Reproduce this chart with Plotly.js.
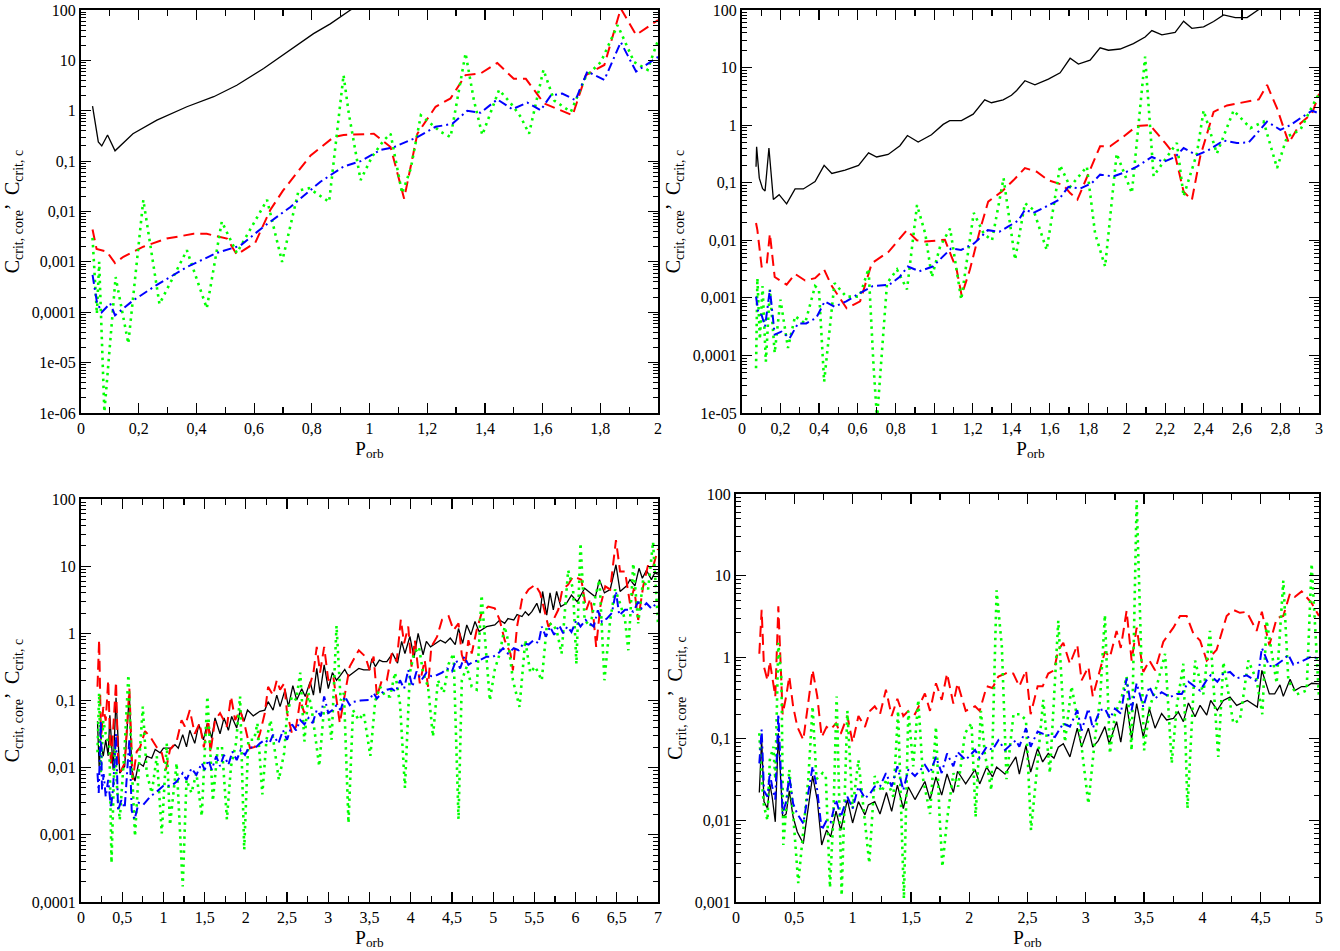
<!DOCTYPE html>
<html>
<head>
<meta charset="utf-8">
<script src="https://cdn.plot.ly/plotly-3.0.1.min.js"></script>
<style>html,body{margin:0;padding:0;background:#fff;}#chart{width:1340px;height:951px;}</style>
</head>
<body>
<div id="chart"></div>
<script>
// ---------- tick labels ----------
const yTickExp = [2, 1, 0, -1, -2, -3, -4, -5, -6];
const yTickText = ['100', '10', '1', '0,1', '0,01', '0,001', '0,0001', '1e-05', '1e-06'];

// ---------- panel 1 (top-left) : [P_orb, C] ----------
const p1Black = [[0.04,1.24],[0.06,0.24],[0.072,0.2],[0.092,0.33],[0.118,0.16],[0.18,0.35],[0.263,0.65],[0.367,1.2],[0.46,1.9],[0.54,3.2],[0.633,6.9],[0.726,16],[0.806,34],[0.864,53],[0.934,100],[1.0,160]];
const p1Red = [[0.04,0.0044],[0.054,0.0018],[0.089,0.0016],[0.118,0.00095],[0.147,0.00126],[0.216,0.002],[0.297,0.0029],[0.39,0.0036],[0.436,0.0036],[0.506,0.0029],[0.54,0.0014],[0.604,0.0024],[0.656,0.0107],[0.70,0.026],[0.796,0.13],[0.876,0.3],[0.91,0.33],[1.015,0.35],[1.073,0.19],[1.12,0.018],[1.166,0.35],[1.229,1.2],[1.281,1.76],[1.333,5.1],[1.385,5.5],[1.443,8.9],[1.5,4.3],[1.542,4.3],[1.605,1.4],[1.663,1.02],[1.704,0.81],[1.75,5.1],[1.814,8.1],[1.871,107],[1.924,32],[2.0,63]];
const p1Green = [[0.04,0.003],[0.055,9.3e-5],[0.063,1.0e-3],[0.081,1.05e-6],[0.12,5e-4],[0.164,2.4e-5],[0.216,0.017],[0.272,1.45e-4],[0.367,0.0017],[0.436,1.2e-4],[0.488,0.0063],[0.54,0.0015],[0.645,0.017],[0.697,0.001],[0.754,0.026],[0.79,0.029],[0.86,0.0155],[0.91,5.1],[0.928,0.9],[0.969,0.042],[1.009,0.123],[1.05,0.26],[1.073,0.35],[1.113,0.023],[1.143,0.071],[1.178,0.81],[1.247,0.38],[1.281,0.3],[1.333,13.8],[1.362,1.6],[1.391,0.33],[1.449,2.6],[1.49,1.4],[1.524,0.76],[1.553,0.35],[1.603,6.5],[1.64,1.6],[1.698,0.95],[1.75,4.8],[1.802,9.3],[1.86,50],[1.917,9.3],[1.964,6.5],[2.0,25]];
const p1Blue = [[0.04,5.5e-4],[0.055,1.6e-4],[0.072,1.0e-4],[0.101,1.5e-4],[0.118,8.7e-5],[0.18,1.7e-4],[0.263,3.5e-4],[0.367,7.9e-4],[0.47,0.0015],[0.552,0.0021],[0.633,0.005],[0.726,0.0123],[0.83,0.039],[0.91,0.078],[0.969,0.1],[1.038,0.166],[1.085,0.19],[1.166,0.3],[1.229,0.48],[1.287,0.55],[1.339,1.0],[1.385,0.91],[1.443,1.68],[1.495,1.07],[1.547,1.45],[1.593,1.02],[1.628,2.0],[1.668,2.2],[1.714,1.62],[1.755,6.0],[1.814,4.1],[1.871,23],[1.924,6.0],[2.0,11.7]];

// ---------- panel 2 (top-right) ----------
const p2Black = [[0.073,0.19],[0.076,0.42],[0.09,0.12],[0.107,0.079],[0.12,0.072],[0.14,0.4],[0.163,0.051],[0.193,0.062],[0.232,0.043],[0.276,0.078],[0.319,0.078],[0.38,0.105],[0.427,0.2],[0.467,0.145],[0.536,0.166],[0.606,0.2],[0.658,0.33],[0.7,0.28],[0.76,0.31],[0.821,0.44],[0.86,0.66],[0.916,0.51],[0.985,0.68],[1.046,1.03],[1.08,1.2],[1.141,1.2],[1.202,1.55],[1.262,2.75],[1.297,2.45],[1.358,2.75],[1.401,3.3],[1.428,4.0],[1.471,5.9],[1.523,5.0],[1.593,6.3],[1.654,8.1],[1.706,14.5],[1.749,11.5],[1.81,13.5],[1.862,22],[1.905,20],[1.966,21],[2.035,26],[2.096,34],[2.131,44],[2.183,37],[2.252,41],[2.296,64],[2.339,48],[2.4,51],[2.452,63],[2.504,82],[2.565,74],[2.626,74],[2.687,102],[2.75,130],[3.0,250]];
const p2Red = [[0.073,0.02],[0.08,0.015],[0.102,0.0035],[0.128,0.0037],[0.145,0.013],[0.17,0.0023],[0.232,0.0017],[0.276,0.0026],[0.328,0.002],[0.38,0.0022],[0.427,0.0031],[0.467,0.0016],[0.544,6.6e-4],[0.614,8.7e-4],[0.675,0.004],[0.762,0.0063],[0.857,0.015],[0.909,0.01],[0.952,0.0095],[1.055,0.0102],[1.116,0.0031],[1.142,0.0011],[1.185,0.0031],[1.237,0.015],[1.28,0.047],[1.35,0.07],[1.411,0.11],[1.471,0.18],[1.532,0.155],[1.593,0.11],[1.671,0.091],[1.706,0.066],[1.744,0.051],[1.784,0.105],[1.862,0.43],[1.914,0.43],[1.983,0.63],[2.053,0.97],[2.122,1.0],[2.2,0.49],[2.252,0.3],[2.296,0.07],[2.339,0.05],[2.383,0.29],[2.452,1.7],[2.522,2.2],[2.626,2.6],[2.687,2.8],[2.73,5.0],[2.782,1.95],[2.843,0.49],[2.903,1.07],[2.964,1.6],[3.0,3.5]];
const p2Green = [[0.073,6e-5],[0.08,0.0022],[0.093,1.9e-4],[0.107,0.0016],[0.124,7.8e-5],[0.145,0.0014],[0.17,1.1e-4],[0.2,9.3e-4],[0.239,1.35e-4],[0.276,4.8e-4],[0.328,3.6e-4],[0.38,0.0016],[0.4,0.0014],[0.427,3.5e-5],[0.481,0.0018],[0.542,0.00105],[0.611,0.00105],[0.658,0.0032],[0.684,6.5e-5],[0.702,8e-6],[0.754,0.0018],[0.806,0.0031],[0.858,0.0014],[0.91,0.041],[0.953,0.013],[0.987,0.0023],[1.03,0.0078],[1.082,0.016],[1.14,9.3e-4],[1.205,0.03],[1.257,0.013],[1.3,0.01],[1.36,0.12],[1.42,0.0046],[1.471,0.044],[1.515,0.034],[1.584,0.0068],[1.654,0.2],[1.706,0.085],[1.793,0.19],[1.836,0.013],[1.888,0.0035],[1.948,0.32],[2.027,0.066],[2.096,15.5],[2.14,0.13],[2.209,0.28],[2.261,0.49],[2.296,0.058],[2.365,0.32],[2.4,1.8],[2.469,0.32],[2.556,1.8],[2.643,0.89],[2.712,1.15],[2.782,0.18],[2.834,0.63],[2.903,0.83],[2.964,2.1],[3.0,3.5]];
const p2Blue = [[0.073,0.00105],[0.085,5.4e-4],[0.102,5e-4],[0.12,3.2e-4],[0.145,0.0014],[0.17,2.3e-4],[0.205,2.6e-4],[0.248,2e-4],[0.291,3.6e-4],[0.334,3.6e-4],[0.386,4.5e-4],[0.43,8.7e-4],[0.481,7e-4],[0.542,8.7e-4],[0.611,0.0012],[0.68,0.0016],[0.767,0.0017],[0.819,0.0023],[0.862,0.0035],[0.922,0.0029],[0.992,0.0035],[1.087,0.0072],[1.139,0.0068],[1.208,0.0089],[1.278,0.015],[1.338,0.0141],[1.385,0.0174],[1.437,0.022],[1.471,0.034],[1.515,0.03],[1.584,0.039],[1.645,0.05],[1.697,0.085],[1.758,0.079],[1.818,0.098],[1.862,0.138],[1.931,0.129],[2.0,0.155],[2.053,0.19],[2.131,0.28],[2.192,0.23],[2.252,0.28],[2.296,0.4],[2.365,0.3],[2.426,0.37],[2.504,0.54],[2.573,0.49],[2.634,0.5],[2.677,0.72],[2.73,1.15],[2.799,0.83],[2.851,1.0],[2.903,1.32],[2.964,1.78],[3.0,1.6]];

// ---------- panel 3 (bottom-left) ----------
const p3Black = [[0.2,0.049],[0.22,0.0105],[0.243,0.023],[0.27,0.0148],[0.3,0.026],[0.33,0.015],[0.35,0.06],[0.39,0.0093],[0.425,0.11],[0.47,0.0083],[0.53,0.0105],[0.587,0.13],[0.615,0.0093],[0.655,0.0063],[0.7,0.0118],[0.756,0.0105],[0.797,0.0148],[0.858,0.0138],[0.9,0.0186],[0.96,0.0166],[1.0,0.0195],[1.1,0.0195],[1.14,0.022],[1.18,0.0195],[1.234,0.031],[1.28,0.0204],[1.32,0.036],[1.38,0.023],[1.43,0.044],[1.485,0.026],[1.533,0.046],[1.586,0.0275],[1.626,0.055],[1.687,0.032],[1.735,0.055],[1.788,0.036],[1.828,0.058],[1.889,0.039],[1.93,0.072],[1.978,0.049],[2.02,0.072],[2.09,0.059],[2.17,0.069],[2.23,0.072],[2.27,0.096],[2.33,0.072],[2.375,0.12],[2.415,0.081],[2.476,0.145],[2.516,0.081],[2.57,0.166],[2.617,0.102],[2.678,0.15],[2.72,0.115],[2.78,0.19],[2.82,0.12],[2.86,0.30],[2.9,0.129],[2.95,0.34],[3.0,0.15],[3.05,0.26],[3.1,0.2],[3.14,0.23],[3.2,0.29],[3.245,0.23],[3.3,0.26],[3.37,0.3],[3.43,0.285],[3.5,0.285],[3.53,0.42],[3.57,0.32],[3.62,0.4],[3.66,0.38],[3.71,0.38],[3.78,0.5],[3.84,0.36],[3.89,0.76],[3.93,0.5],[3.99,0.9],[4.04,0.43],[4.09,1.0],[4.15,0.48],[4.19,0.76],[4.24,0.63],[4.3,0.71],[4.36,0.79],[4.42,0.72],[4.48,0.85],[4.54,0.68],[4.58,1.18],[4.63,0.71],[4.68,1.33],[4.73,0.95],[4.78,1.5],[4.83,1.06],[4.92,1.26],[5.02,1.33],[5.08,1.58],[5.14,1.41],[5.18,1.66],[5.25,1.58],[5.29,1.9],[5.35,1.78],[5.39,2.1],[5.43,1.86],[5.47,2.1],[5.53,2.8],[5.57,2.0],[5.6,4.2],[5.65,1.86],[5.69,4.0],[5.73,2.24],[5.77,4.2],[5.82,2.5],[5.89,2.8],[5.95,3.7],[6.02,2.95],[6.06,3.7],[6.11,4.7],[6.18,4.0],[6.24,3.5],[6.29,6.3],[6.35,4.0],[6.42,4.5],[6.49,10.5],[6.54,4.2],[6.62,5.1],[6.66,6.3],[6.72,5.1],[6.77,9.3],[6.81,6.6],[6.86,8.7],[6.92,6.3],[6.96,7.9],[7.0,7.6]];
const p3Red = [[0.2,0.16],[0.22,0.8],[0.243,0.026],[0.27,0.08],[0.3,0.05],[0.33,0.2],[0.364,0.0105],[0.425,0.19],[0.45,0.013],[0.48,0.0087],[0.53,0.0117],[0.587,0.15],[0.627,0.0066],[0.676,0.0174],[0.716,0.02],[0.777,0.035],[0.838,0.029],[0.92,0.02],[0.98,0.0166],[1.03,0.0093],[1.08,0.0186],[1.16,0.0245],[1.22,0.051],[1.26,0.041],[1.32,0.072],[1.38,0.032],[1.44,0.046],[1.49,0.02],[1.545,0.051],[1.57,0.0166],[1.626,0.051],[1.687,0.065],[1.77,0.041],[1.82,0.115],[1.87,0.051],[1.93,0.072],[1.99,0.041],[2.05,0.0195],[2.11,0.0204],[2.17,0.032],[2.23,0.065],[2.27,0.16],[2.33,0.12],[2.375,0.2],[2.415,0.145],[2.465,0.18],[2.5,0.065],[2.56,0.032],[2.61,0.041],[2.66,0.1],[2.71,0.065],[2.76,0.145],[2.82,0.26],[2.86,0.63],[2.9,0.26],[2.95,0.63],[3.0,0.2],[3.06,0.23],[3.14,0.046],[3.2,0.129],[3.26,0.32],[3.37,0.56],[3.45,0.45],[3.5,0.285],[3.55,0.45],[3.59,0.115],[3.65,0.2],[3.71,0.2],[3.77,0.5],[3.83,0.38],[3.88,1.6],[3.92,0.71],[3.97,1.26],[4.01,0.32],[4.05,0.79],[4.11,0.18],[4.17,0.4],[4.21,0.16],[4.25,0.63],[4.32,0.89],[4.38,1.6],[4.46,1.8],[4.52,1.12],[4.58,1.41],[4.62,0.48],[4.66,0.34],[4.7,0.79],[4.74,0.5],[4.8,1.12],[4.86,2.0],[4.94,2.5],[5.02,2.35],[5.08,1.58],[5.14,0.79],[5.21,0.5],[5.24,0.28],[5.29,1.26],[5.35,3.2],[5.43,4.5],[5.51,5.3],[5.57,4.0],[5.63,2.0],[5.67,1.26],[5.73,1.58],[5.79,2.24],[5.84,4.5],[5.91,5.3],[5.97,7.0],[6.03,6.6],[6.07,6.3],[6.13,2.24],[6.18,3.3],[6.22,1.58],[6.25,0.63],[6.3,2.5],[6.36,5.0],[6.42,4.5],[6.49,24.5],[6.54,8.3],[6.6,8.3],[6.66,2.8],[6.71,4.7],[6.76,1.58],[6.82,5.0],[6.88,10.5],[6.94,9.8],[7.0,18]];
const p3Green = [[0.2,0.017],[0.22,0.129],[0.24,0.0083],[0.27,0.05],[0.3,0.032],[0.345,0.0204],[0.37,3.8e-4],[0.41,0.0204],[0.44,0.0045],[0.47,0.00166],[0.53,0.0204],[0.575,0.24],[0.615,0.0117],[0.655,9.5e-4],[0.71,0.0148],[0.75,0.081],[0.797,0.0083],[0.858,0.0042],[0.92,0.0148],[0.98,0.00105],[1.04,0.023],[1.08,0.0014],[1.16,0.0117],[1.234,1.7e-4],[1.28,0.0066],[1.34,0.0042],[1.4,0.0083],[1.465,0.0019],[1.533,0.115],[1.6,0.0032],[1.66,0.0204],[1.71,0.0204],[1.77,0.0017],[1.82,0.0105],[1.88,0.023],[1.93,0.115],[1.98,6e-4],[2.03,0.026],[2.1,0.026],[2.14,0.046],[2.2,0.004],[2.25,0.026],[2.3,0.051],[2.34,0.023],[2.4,0.0066],[2.465,0.0166],[2.5,0.065],[2.56,0.115],[2.61,0.102],[2.66,0.26],[2.71,0.0245],[2.76,0.129],[2.8,0.072],[2.89,0.0105],[2.95,0.081],[3.0,0.065],[3.04,0.026],[3.1,1.3],[3.15,0.1],[3.19,0.129],[3.245,0.0015],[3.3,0.072],[3.37,0.051],[3.43,0.065],[3.51,0.015],[3.57,0.1],[3.63,0.16],[3.69,0.115],[3.75,0.115],[3.81,0.26],[3.87,0.09],[3.93,0.005],[3.99,0.26],[4.04,0.5],[4.1,0.63],[4.15,0.26],[4.21,0.16],[4.27,0.029],[4.33,0.2],[4.4,0.13],[4.46,0.35],[4.52,0.5],[4.58,0.0017],[4.62,0.2],[4.68,0.32],[4.74,0.16],[4.8,0.145],[4.86,3.7],[4.92,0.5],[4.96,0.1],[5.02,0.29],[5.08,0.5],[5.14,1.26],[5.18,0.79],[5.24,0.2],[5.32,0.08],[5.39,0.79],[5.45,0.26],[5.51,0.32],[5.59,0.2],[5.65,1.26],[5.71,1.41],[5.77,1.12],[5.83,0.5],[5.91,8.7],[5.97,4.5],[6.01,0.35],[6.06,22],[6.11,1.58],[6.18,1.26],[6.24,3.5],[6.29,6.3],[6.35,0.2],[6.42,1.58],[6.48,4.5],[6.54,2.8],[6.6,1.58],[6.64,0.56],[6.7,11],[6.76,1.41],[6.82,6.3],[6.88,4.5],[6.94,23],[7.0,1.41]];
const p3Blue = [[0.2,0.0083],[0.215,0.0042],[0.24,0.05],[0.255,0.0047],[0.275,0.008],[0.3,0.0037],[0.33,0.0066],[0.364,0.0025],[0.39,0.0052],[0.425,0.032],[0.45,0.0023],[0.49,0.0033],[0.53,0.0025],[0.587,0.027],[0.615,0.0023],[0.65,0.0017],[0.7,0.003],[0.756,0.0028],[0.838,0.0037],[0.92,0.0044],[1.0,0.0054],[1.1,0.0054],[1.16,0.0062],[1.234,0.0083],[1.28,0.0066],[1.34,0.0098],[1.4,0.0078],[1.465,0.0117],[1.5,0.0093],[1.545,0.013],[1.586,0.0093],[1.64,0.0148],[1.687,0.0105],[1.735,0.0155],[1.788,0.011],[1.836,0.0174],[1.889,0.013],[1.938,0.0185],[1.99,0.0155],[2.04,0.0204],[2.11,0.0195],[2.17,0.023],[2.23,0.026],[2.285,0.023],[2.33,0.031],[2.395,0.023],[2.45,0.036],[2.5,0.026],[2.56,0.044],[2.61,0.036],[2.66,0.051],[2.71,0.044],[2.76,0.055],[2.81,0.046],[2.86,0.072],[2.91,0.058],[2.95,0.115],[3.0,0.065],[3.05,0.072],[3.1,0.085],[3.15,0.072],[3.2,0.115],[3.26,0.085],[3.3,0.095],[3.39,0.1],[3.45,0.1],[3.5,0.102],[3.55,0.13],[3.59,0.107],[3.65,0.13],[3.71,0.145],[3.77,0.15],[3.82,0.135],[3.87,0.2],[3.92,0.15],[3.97,0.285],[4.02,0.16],[4.07,0.27],[4.13,0.2],[4.19,0.26],[4.25,0.23],[4.32,0.24],[4.38,0.26],[4.44,0.3],[4.5,0.27],[4.55,0.4],[4.6,0.3],[4.65,0.45],[4.7,0.34],[4.76,0.38],[4.84,0.4],[4.92,0.45],[5.0,0.45],[5.06,0.5],[5.12,0.6],[5.18,0.5],[5.25,0.6],[5.31,0.56],[5.37,0.71],[5.43,0.68],[5.49,0.79],[5.55,0.71],[5.59,1.26],[5.64,0.89],[5.69,1.26],[5.74,0.95],[5.8,1.32],[5.85,1.0],[5.9,1.26],[5.95,1.05],[6.01,1.58],[6.06,1.26],[6.12,1.58],[6.17,1.41],[6.22,1.26],[6.27,2.2],[6.32,1.48],[6.38,1.66],[6.44,2.0],[6.49,4.2],[6.53,1.86],[6.6,2.24],[6.65,2.24],[6.7,2.1],[6.76,2.95],[6.8,2.34],[6.86,2.8],[6.92,2.34],[7.0,2.95]];

// ---------- panel 4 (bottom-right) ----------
const p4Black = [[0.2,0.022],[0.22,0.1],[0.24,0.017],[0.27,0.014],[0.29,0.028],[0.31,0.0195],[0.337,0.0096],[0.363,0.117],[0.4,0.011],[0.43,0.012],[0.457,0.023],[0.49,0.011],[0.526,0.0072],[0.577,0.0052],[0.657,0.035],[0.697,0.0178],[0.735,0.005],[0.777,0.0076],[0.812,0.0063],[0.858,0.013],[0.898,0.0076],[0.955,0.018],[1.0,0.0093],[1.05,0.017],[1.106,0.0117],[1.135,0.0155],[1.19,0.017],[1.235,0.012],[1.29,0.022],[1.335,0.0129],[1.384,0.027],[1.435,0.014],[1.478,0.0257],[1.535,0.018],[1.62,0.03],[1.664,0.018],[1.715,0.034],[1.764,0.0204],[1.81,0.037],[1.864,0.022],[1.9,0.04],[1.97,0.028],[2.05,0.042],[2.09,0.028],[2.15,0.045],[2.2,0.034],[2.235,0.045],[2.307,0.037],[2.4,0.06],[2.43,0.037],[2.487,0.083],[2.527,0.039],[2.587,0.076],[2.63,0.052],[2.678,0.066],[2.727,0.058],[2.764,0.079],[2.807,0.087],[2.864,0.06],[2.927,0.135],[2.964,0.079],[3.022,0.135],[3.06,0.079],[3.107,0.095],[3.164,0.141],[3.2,0.087],[3.264,0.162],[3.3,0.091],[3.35,0.27],[3.393,0.1],[3.436,0.27],[3.493,0.105],[3.545,0.234],[3.594,0.135],[3.65,0.204],[3.693,0.17],[3.751,0.178],[3.793,0.214],[3.837,0.162],[3.88,0.275],[3.937,0.186],[3.98,0.257],[4.037,0.195],[4.071,0.295],[4.128,0.224],[4.18,0.295],[4.237,0.324],[4.294,0.257],[4.385,0.295],[4.471,0.245],[4.51,0.69],[4.574,0.355],[4.62,0.355],[4.665,0.457],[4.694,0.331],[4.752,0.537],[4.793,0.39],[4.851,0.437],[4.894,0.437],[4.937,0.479],[5.0,0.47]];
const p4Red = [[0.2,1.1],[0.22,3.8],[0.24,0.76],[0.27,0.52],[0.29,0.89],[0.31,0.58],[0.337,0.33],[0.363,4.2],[0.4,0.2],[0.43,0.33],[0.457,0.58],[0.49,0.25],[0.526,0.14],[0.577,0.097],[0.657,0.7],[0.697,0.33],[0.735,0.105],[0.777,0.14],[0.812,0.13],[0.858,0.155],[0.898,0.115],[0.955,0.19],[1.0,0.09],[1.05,0.19],[1.106,0.14],[1.15,0.22],[1.19,0.25],[1.235,0.2],[1.286,0.4],[1.335,0.19],[1.384,0.31],[1.435,0.19],[1.478,0.22],[1.535,0.2],[1.62,0.36],[1.664,0.22],[1.715,0.48],[1.764,0.3],[1.81,0.63],[1.864,0.27],[1.9,0.48],[1.97,0.22],[2.05,0.25],[2.09,0.22],[2.15,0.44],[2.2,0.42],[2.25,0.58],[2.31,0.63],[2.336,0.66],[2.378,0.63],[2.43,0.44],[2.487,0.69],[2.527,0.2],[2.587,0.44],[2.63,0.44],[2.678,0.63],[2.727,0.69],[2.764,1.23],[2.807,1.5],[2.864,0.83],[2.927,1.41],[2.964,0.52],[3.022,0.76],[3.06,0.33],[3.122,0.69],[3.164,1.17],[3.207,1.0],[3.264,2.1],[3.3,1.3],[3.35,3.7],[3.393,0.91],[3.436,2.3],[3.493,0.66],[3.545,0.91],[3.594,0.69],[3.665,1.55],[3.751,2.3],[3.808,3.2],[3.865,3.2],[3.922,1.95],[3.98,1.6],[4.037,0.91],[4.122,1.23],[4.208,3.2],[4.265,3.8],[4.322,3.5],[4.38,3.6],[4.465,2.1],[4.51,3.6],[4.574,1.4],[4.637,3.0],[4.694,3.2],[4.752,6.1],[4.794,5.5],[4.851,6.4],[4.937,4.6],[5.0,3.2]];
const p4Green = [[0.2,0.117],[0.22,0.032],[0.24,0.015],[0.27,0.01],[0.29,0.055],[0.32,0.08],[0.337,0.032],[0.363,1.5],[0.39,0.52],[0.406,0.005],[0.457,0.042],[0.49,0.012],[0.534,0.0017],[0.577,0.0076],[0.62,0.032],[0.657,0.25],[0.69,0.032],[0.743,0.038],[0.77,0.035],[0.806,0.0015],[0.835,0.011],[0.863,0.33],[0.906,0.0012],[0.955,0.22],[1.0,0.014],[1.05,0.055],[1.098,0.012],[1.143,0.003],[1.19,0.035],[1.25,0.0224],[1.29,0.032],[1.35,0.0195],[1.39,0.22],[1.44,0.0011],[1.478,0.22],[1.52,0.046],[1.563,0.3],[1.605,0.032],[1.664,0.012],[1.715,0.14],[1.745,0.012],[1.77,0.0027],[1.81,0.0102],[1.864,0.038],[1.905,0.026],[1.964,0.117],[2.02,0.155],[2.055,0.011],[2.1,0.22],[2.134,0.066],[2.19,0.0234],[2.235,6.6],[2.28,1.35],[2.32,0.032],[2.38,0.2],[2.436,0.2],[2.487,0.17],[2.53,0.0076],[2.578,0.038],[2.635,0.3],[2.692,0.038],[2.764,2.8],[2.821,0.091],[2.878,0.44],[2.95,0.117],[3.022,0.016],[3.08,0.105],[3.122,0.3],[3.164,3.3],[3.207,0.066],[3.25,0.2],[3.307,0.32],[3.35,0.58],[3.393,0.072],[3.436,84],[3.5,0.072],[3.55,0.25],[3.608,0.44],[3.68,1.1],[3.737,0.05],[3.78,0.25],[3.837,0.83],[3.872,0.014],[3.937,0.91],[4.008,0.35],[4.065,2.1],[4.136,0.06],[4.18,0.87],[4.265,0.155],[4.322,0.17],[4.394,0.91],[4.465,0.52],[4.514,0.2],[4.551,2.8],[4.637,0.48],[4.694,8.7],[4.737,0.52],[4.808,0.35],[4.894,0.39],[4.937,14],[5.0,0.32]];
const p4Blue = [[0.2,0.05],[0.22,0.13],[0.24,0.023],[0.27,0.0195],[0.29,0.038],[0.31,0.026],[0.337,0.018],[0.363,0.2],[0.4,0.012],[0.43,0.017],[0.457,0.035],[0.49,0.016],[0.526,0.012],[0.577,0.0092],[0.657,0.046],[0.697,0.0234],[0.735,0.0076],[0.777,0.01],[0.812,0.0095],[0.858,0.018],[0.898,0.011],[0.955,0.0195],[1.0,0.014],[1.05,0.026],[1.106,0.0186],[1.15,0.0214],[1.19,0.026],[1.235,0.026],[1.286,0.038],[1.335,0.026],[1.384,0.046],[1.435,0.0234],[1.478,0.042],[1.535,0.035],[1.62,0.048],[1.664,0.038],[1.715,0.06],[1.764,0.038],[1.81,0.066],[1.864,0.046],[1.9,0.069],[1.97,0.055],[2.05,0.073],[2.09,0.058],[2.15,0.08],[2.2,0.073],[2.25,0.096],[2.307,0.073],[2.4,0.096],[2.43,0.08],[2.487,0.135],[2.527,0.08],[2.587,0.123],[2.635,0.115],[2.735,0.105],[2.807,0.155],[2.864,0.141],[2.927,0.224],[2.964,0.126],[3.022,0.234],[3.06,0.135],[3.122,0.224],[3.164,0.234],[3.207,0.178],[3.25,0.234],[3.3,0.204],[3.35,0.55],[3.393,0.224],[3.436,0.48],[3.493,0.245],[3.545,0.437],[3.594,0.309],[3.65,0.372],[3.722,0.324],[3.78,0.355],[3.823,0.355],[3.88,0.5],[3.937,0.437],[3.98,0.39],[4.037,0.525],[4.071,0.6],[4.128,0.5],[4.18,0.63],[4.237,0.66],[4.294,0.55],[4.38,0.6],[4.471,0.5],[4.51,1.3],[4.574,0.78],[4.62,0.78],[4.694,0.93],[4.737,1.07],[4.78,0.81],[4.851,0.89],[4.937,1.02],[5.0,0.96]];

// ---------- styling ----------
const FONT = 'Liberation Serif';
const W = 1340, H = 951;
const styles = {
  black: {color: '#000000', width: 1.3, dash: 'solid'},
  red:   {color: '#ff0000', width: 2, dash: '11px,6px'},
  green: {color: '#00ff00', width: 2.6, dash: '2.5px,4.5px'},
  blue:  {color: '#0000ff', width: 2, dash: '9px,4px,2px,4px'}
};

const panels = [
  {px: [81, 658], py: [10, 413], xr: [0, 2], dx: 0.2, ylo: -6, yhi: 2, series: [p1Black, p1Red, p1Green, p1Blue]},
  {px: [742, 1319], py: [10, 413], xr: [0, 3], dx: 0.2, ylo: -5, yhi: 2, series: [p2Black, p2Red, p2Green, p2Blue]},
  {px: [81, 658], py: [499, 902], xr: [0, 7], dx: 0.5, ylo: -4, yhi: 2, series: [p3Black, p3Red, p3Green, p3Blue]},
  {px: [736, 1319], py: [494, 902], xr: [0, 5], dx: 0.5, ylo: -3, yhi: 2, series: [p4Black, p4Red, p4Green, p4Blue]}
];
const order = ['black', 'red', 'green', 'blue'];

const data = [];
const layout = {
  width: W, height: H,
  margin: {l: 0, r: 0, t: 0, b: 0, pad: 0},
  paper_bgcolor: '#ffffff', plot_bgcolor: '#ffffff',
  showlegend: false,
  separators: ', ',
  font: {family: FONT, size: 16, color: '#000'}
};

panels.forEach((p, i) => {
  const n = i + 1;
  const xa = 'xaxis' + (n === 1 ? '' : n), ya = 'yaxis' + (n === 1 ? '' : n);
  const xref = 'x' + (n === 1 ? '' : n), yref = 'y' + (n === 1 ? '' : n);
  const tv = [], tt = [];
  yTickExp.forEach((e, k) => { if (e >= p.ylo && e <= p.yhi) { tv.push(Math.pow(10, e)); tt.push(yTickText[k]); } });
  const minorVals = [];
  for (let e = p.ylo; e < p.yhi; e++) for (let m = 2; m <= 9; m++) minorVals.push(m * Math.pow(10, e));
  layout[xa] = {
    domain: [p.px[0] / W, p.px[1] / W], anchor: yref, range: p.xr,
    tickmode: 'linear', tick0: 0, dtick: p.dx,
    ticks: 'inside', ticklen: 10, tickwidth: 1.2, tickcolor: '#000',
    minor: {ticks: 'inside', ticklen: 6, tickwidth: 1.2, tickcolor: '#000', dtick: p.dx / 2, tick0: 0},
    showline: true, linewidth: 2, linecolor: '#000', mirror: 'allticks',
    showgrid: false, zeroline: false, automargin: false,
    tickfont: {family: FONT, size: 16, color: '#000'},
    title: {text: 'P<sub>orb</sub>', font: {family: FONT, size: 19, color: '#000'}, standoff: 5}
  };
  layout[ya] = {
    type: 'log', domain: [1 - p.py[1] / H, 1 - p.py[0] / H], anchor: xref, range: [p.ylo, p.yhi],
    tickmode: 'array', tickvals: tv, ticktext: tt,
    ticks: 'inside', ticklen: 10, tickwidth: 1.2, tickcolor: '#000',
    minor: {ticks: 'inside', ticklen: 5, tickwidth: 1, tickcolor: '#000', tickmode: 'array', tickvals: minorVals},
    showline: true, linewidth: 2, linecolor: '#000', mirror: 'allticks',
    showgrid: false, zeroline: false, automargin: false,
    tickfont: {family: FONT, size: 16, color: '#000'},
    title: {text: 'C<sub>crit, core</sub>\u2019  C<sub>crit, c</sub>', font: {family: FONT, size: 20, color: '#000'}, standoff: 7}
  };
  p.series.forEach((s, k) => {
    const st = styles[order[k]];
    data.push({
      type: 'scatter', mode: 'lines', xaxis: xref, yaxis: yref,
      x: s.map(d => d[0]), y: s.map(d => d[1]),
      line: {color: st.color, width: st.width, dash: st.dash},
      hoverinfo: 'skip'
    });
  });
});

Plotly.newPlot('chart', data, layout, {staticPlot: true, displayModeBar: false});
</script>
</body>
</html>
